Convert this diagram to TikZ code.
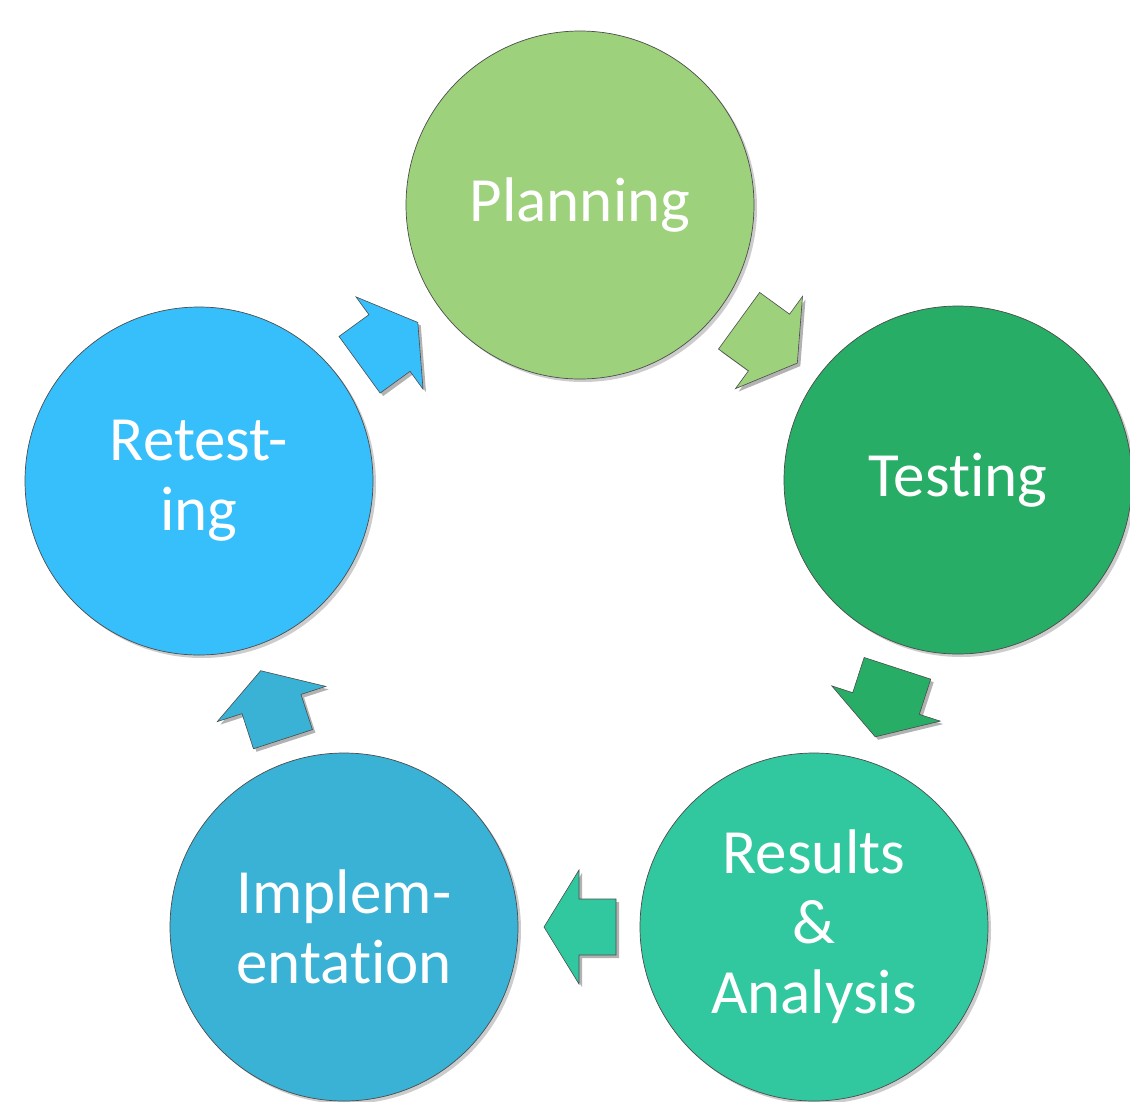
\documentclass[tikz,border=0pt]{standalone}
\usepackage{fontspec}
\setmainfont{Carlito}[Ligatures=NoCommon, RawFeature={-liga}]
\usetikzlibrary{calc,shadows}
\definecolor{cPlan}{HTML}{9DD17C}
\definecolor{cTest}{HTML}{27AD66}
\definecolor{cRes}{HTML}{31C8A0}
\definecolor{cImp}{HTML}{39B2D6}
\definecolor{cRet}{HTML}{37BFFB}
\tikzset{
  phase/.style={circle, minimum size=348pt, inner sep=0pt, draw=black!70, line width=0.7pt,
    text=white, align=center, font=\fontsize{63}{70}\selectfont,
    drop shadow={opacity=0.4, shadow xshift=3pt, shadow yshift=-3pt}},
  arrowshadow/.style={fill=black, opacity=0.3},
  arrowbody/.style={draw=black!70, line width=0.6pt}
}
% #1 from, #2 to, #3 angle, #4 shaft half width, #5 colour
\newcommand\cyclearrow[5]{%
  \coordinate (m#1#2) at ($(#1)!0.5!(#2)$);
  \fill[arrowshadow, shift={(m#1#2)}, xshift=3pt, yshift=-3pt, rotate=#3]
    (-37pt,-#4pt) -- (0pt,-#4pt) -- (0pt,-57pt) -- (35pt,0pt) -- (0pt,57pt) -- (0pt,#4pt) -- (-37pt,#4pt) -- cycle;
  \filldraw[arrowbody, fill=#5, shift={(m#1#2)}, rotate=#3]
    (-37pt,-#4pt) -- (0pt,-#4pt) -- (0pt,-57pt) -- (35pt,0pt) -- (0pt,57pt) -- (0pt,#4pt) -- (-37pt,#4pt) -- cycle;
}
\begin{document}
\begin{tikzpicture}[x=1pt,y=1pt]
\useasboundingbox[fill=white] (0,0) rectangle (1130,-1101);
\node[phase, fill=cPlan] (P) at (580,-205) {\raisebox{-3pt}{Planning}};
\node[phase, fill=cTest] (T) at (958,-480) {\raisebox{-3pt}{Testing}};
\node[phase, fill=cRes] (R) at (814,-927) {Results\\\&\\Analysis};
\node[phase, fill=cImp] (I) at (344,-927) {Implem-\\entation};
\node[phase, fill=cRet] (E) at (199,-481) {Retest-\\ing};
\cyclearrow{P}{T}{-36}{35}{cPlan}
\cyclearrow{T}{R}{-108}{35}{cTest}
\cyclearrow{R}{I}{180}{28}{cRes}
\cyclearrow{I}{E}{108}{31}{cImp}
\cyclearrow{E}{P}{36}{35}{cRet}
\end{tikzpicture}
\end{document}
